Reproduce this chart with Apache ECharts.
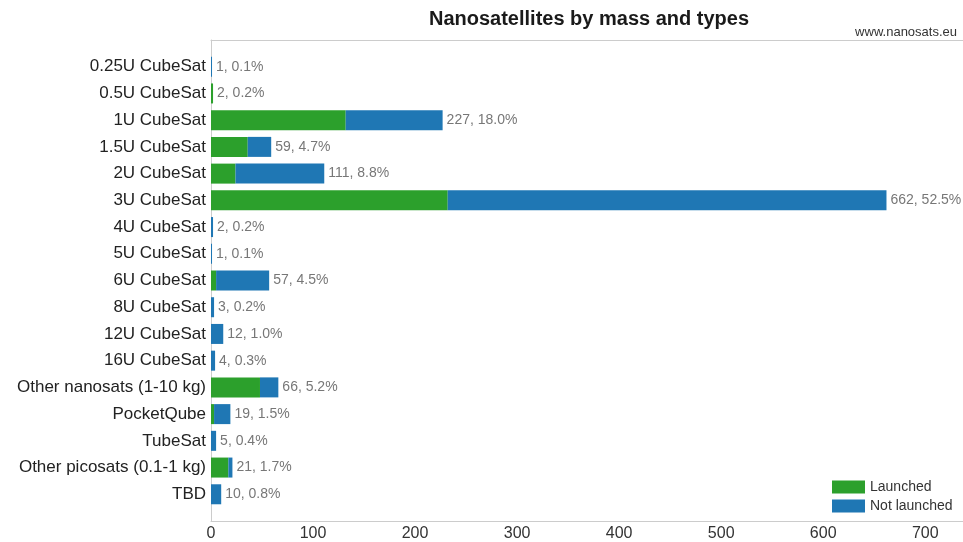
<!DOCTYPE html>
<html>
<head>
<meta charset="utf-8">
<title>Nanosatellites by mass and types</title>
<script src="https://cdn.jsdelivr.net/npm/echarts@6/dist/echarts.min.js"></script>
<style>
  html, body { margin: 0; padding: 0; background: #ffffff; }
  #chart { width: 963px; height: 542px; }
</style>
</head>
<body>
<div id="chart"></div>
<script>
// Satellite types, top to bottom
const categories = [
  '0.25U CubeSat', '0.5U CubeSat', '1U CubeSat', '1.5U CubeSat', '2U CubeSat',
  '3U CubeSat', '4U CubeSat', '5U CubeSat', '6U CubeSat', '8U CubeSat',
  '12U CubeSat', '16U CubeSat', 'Other nanosats (1-10 kg)', 'PocketQube',
  'TubeSat', 'Other picosats (0.1-1 kg)', 'TBD'
];

// Counts per type
const launched    = [0, 2, 132, 36, 24, 232, 0, 0, 5, 0, 0, 0, 48, 3, 0, 17, 0];
const notLaunched = [1, 0, 95, 23, 87, 430, 2, 1, 52, 3, 12, 4, 18, 16, 5, 4, 10];

const xTicks = [0, 100, 200, 300, 400, 500, 600, 700];

const FONT = "'Liberation Sans', Arial, Helvetica, sans-serif";
const GREEN = '#2ca02c';
const BLUE = '#1f77b4';
const AXIS_GREY = '#cccccc';

const totals = categories.map((_, i) => launched[i] + notLaunched[i]);
const grandTotal = totals.reduce((a, b) => a + b, 0);

// Half-band of empty space above the first and below the last row
const yData = [''].concat(categories, ['']);
const pad = (arr) => ['-'].concat(arr, ['-']);

const chart = echarts.init(document.getElementById('chart'), null, { renderer: 'canvas' });

const xMax = 737;

chart.setOption({
  animation: false,
  backgroundColor: '#ffffff',
  textStyle: { fontFamily: FONT },
  grid: { left: 211, top: 40, right: 0, bottom: 21, containLabel: false },
  graphic: [
    {
      type: 'text', x: 589, y: 19,
      style: {
        text: 'Nanosatellites by mass and types',
        align: 'center', verticalAlign: 'middle',
        fontFamily: FONT, fontSize: 20, fontWeight: 'bold', fill: '#1a1a1a'
      }
    },
    {
      type: 'text', x: 957, y: 32,
      style: {
        text: 'www.nanosats.eu',
        align: 'right', verticalAlign: 'middle',
        fontFamily: FONT, fontSize: 13, fill: '#333333'
      }
    }
  ],
  legend: {
    orient: 'vertical',
    left: 832, top: 480,
    padding: 0,
    itemGap: 5,
    itemWidth: 33, itemHeight: 13,
    icon: 'rect',
    selectedMode: false,
    textStyle: { fontFamily: FONT, fontSize: 14, color: '#333333' },
    data: ['Launched', 'Not launched']
  },
  xAxis: [
    {
      type: 'value', position: 'bottom',
      min: xTicks[0], max: xMax, interval: xTicks[1] - xTicks[0],
      axisLine: { show: true, lineStyle: { color: AXIS_GREY, width: 1 } },
      axisTick: { show: false },
      splitLine: { show: false },
      axisLabel: {
        margin: 5, fontFamily: FONT, fontSize: 16, color: '#333333',
        showMaxLabel: false,
        formatter: (v) => xTicks.indexOf(v) >= 0 ? String(v) : ''
      }
    },
    {
      type: 'value', position: 'top',
      min: xTicks[0], max: xMax,
      axisLine: { show: true, lineStyle: { color: AXIS_GREY, width: 1 } },
      axisTick: { show: false },
      axisLabel: { show: false },
      splitLine: { show: false }
    }
  ],
  yAxis: {
    type: 'category',
    data: yData,
    inverse: true,
    boundaryGap: false,
    axisLine: { show: true, lineStyle: { color: AXIS_GREY, width: 1 } },
    axisTick: { show: false },
    splitLine: { show: false },
    axisLabel: { margin: 5, fontFamily: FONT, fontSize: 17, color: '#222222', interval: 0 }
  },
  series: [
    {
      name: 'Launched',
      type: 'bar',
      stack: 'total',
      barWidth: 20,
      itemStyle: { color: GREEN },
      data: pad(launched)
    },
    {
      name: 'Not launched',
      type: 'bar',
      stack: 'total',
      barWidth: 20,
      itemStyle: { color: BLUE },
      label: {
        show: true,
        position: 'right',
        distance: 4,
        fontFamily: FONT,
        fontSize: 14,
        color: '#777777',
        formatter: (p) => {
          const i = p.dataIndex - 1;
          if (i < 0 || i >= categories.length) return '';
          const t = totals[i];
          return t + ', ' + (t / grandTotal * 100).toFixed(1) + '%';
        }
      },
      data: pad(notLaunched)
    }
  ]
});
</script>
</body>
</html>
